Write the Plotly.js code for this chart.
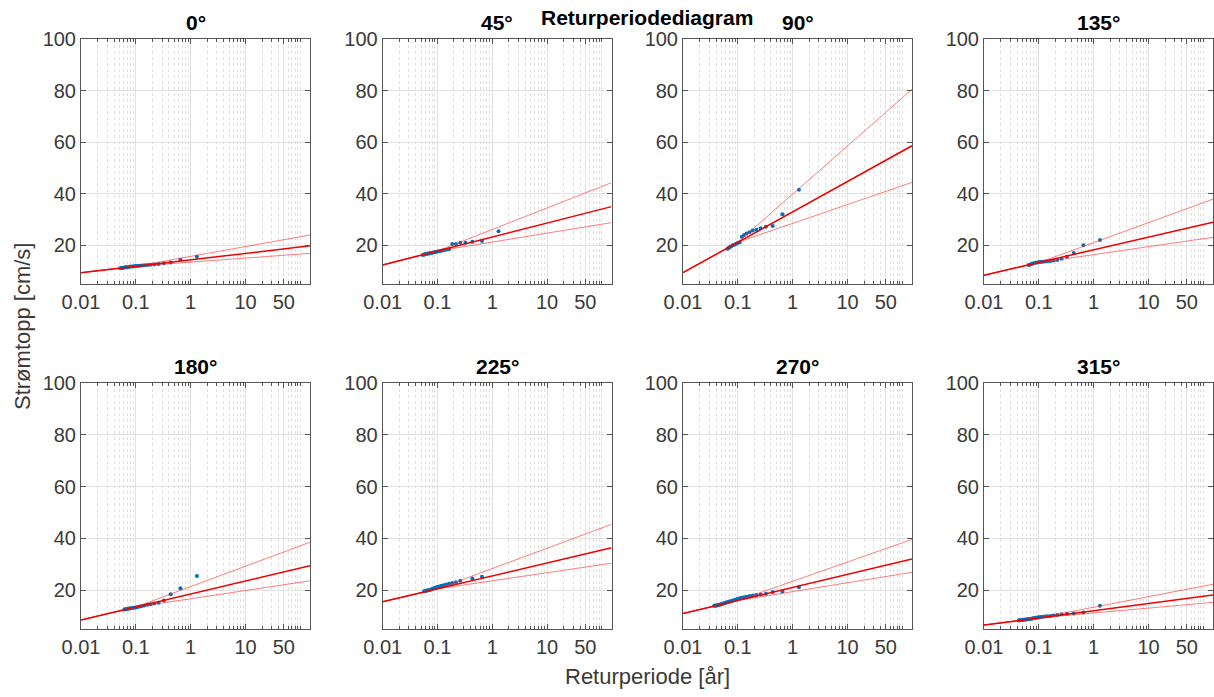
<!DOCTYPE html>
<html><head><meta charset="utf-8">
<script src="https://cdn.plot.ly/plotly-3.0.1.min.js"></script>
<style>body{margin:0;background:#fff}#chart{width:1214px;height:697px}</style>
</head><body><div id="chart"></div><script>
// ---- data ----
const DIRECTIONS = ['0°', '45°', '90°', '135°', '180°', '225°', '270°', '315°'];
const X_TICKS = [0.01, 0.1, 1, 10, 50];
const X_TICK_TEXT = ['0.01', '0.1', '1', '10', '50'];
const Y_TICKS = [20, 40, 60, 80, 100];

// fitted line end points (x = 0.01 and x = 150) and confidence bounds (x = 0.01, 0.1, 150)
const FIT_X = [0.01, 150];
const CI_X = [0.01, 0.1, 150];

const T_0 = [1.3, 0.65, 0.433, 0.325, 0.26, 0.217, 0.186, 0.163, 0.144, 0.13, 0.118, 0.108, 0.1, 0.093, 0.087, 0.081, 0.076, 0.072, 0.068, 0.065, 0.062, 0.059, 0.057, 0.054, 0.052];
const V_0 = [15.6, 14.4, 13.3, 13.0, 12.8, 12.6, 12.5, 12.4, 12.3, 12.2, 12.1, 12.0, 12.0, 11.9, 11.8, 11.8, 11.7, 11.6, 11.5, 11.5, 11.4, 11.3, 11.3, 11.2, 11.1];
const FIT_0 = [9.4, 19.8];
const UPPER_0 = [9.4, 11.9, 24.0];
const LOWER_0 = [9.4, 11.9, 16.9];

const T_45 = [1.3, 0.65, 0.433, 0.325, 0.26, 0.217, 0.186, 0.163, 0.144, 0.13, 0.118, 0.108, 0.1, 0.093, 0.087, 0.081, 0.076, 0.072, 0.068, 0.065, 0.062, 0.059, 0.057, 0.054];
const V_45 = [25.5, 21.7, 21.4, 21.0, 21.0, 20.5, 20.5, 18.5, 18.3, 18.1, 17.9, 17.7, 17.6, 17.4, 17.3, 17.1, 17.0, 16.9, 16.8, 16.7, 16.6, 16.5, 16.4, 16.2];
const FIT_45 = [12.4, 35.0];
const UPPER_45 = [12.4, 17.8, 44.3];
const LOWER_45 = [12.4, 17.8, 28.8];

const T_90 = [1.3, 0.65, 0.433, 0.325, 0.26, 0.217, 0.186, 0.163, 0.144, 0.13, 0.118, 0.108, 0.1, 0.093, 0.087, 0.081, 0.076, 0.072, 0.068, 0.065];
const V_90 = [41.5, 32.0, 27.5, 27.2, 26.6, 26.0, 25.7, 25.1, 24.6, 24.0, 23.3, 21.2, 20.9, 20.6, 20.2, 20.0, 19.6, 19.3, 19.0, 18.7];
const FIT_90 = [9.4, 58.6];
const UPPER_90 = [9.4, 21.2, 80.5];
const LOWER_90 = [9.4, 21.2, 44.4];

const T_135 = [1.3, 0.65, 0.433, 0.325, 0.26, 0.217, 0.186, 0.163, 0.144, 0.13, 0.118, 0.108, 0.1, 0.093, 0.087, 0.081, 0.076, 0.072, 0.068, 0.065];
const V_135 = [22.1, 20.0, 17.0, 15.6, 14.8, 14.3, 14.1, 13.9, 13.8, 13.7, 13.6, 13.5, 13.4, 13.3, 13.2, 13.0, 12.9, 12.7, 12.5, 12.4];
const FIT_135 = [8.4, 29.0];
const UPPER_135 = [8.4, 13.3, 37.9];
const LOWER_135 = [8.4, 13.3, 23.1];

const T_180 = [1.3, 0.65, 0.433, 0.325, 0.26, 0.217, 0.186, 0.163, 0.144, 0.13, 0.118, 0.108, 0.1, 0.093, 0.087, 0.081, 0.076, 0.072, 0.068, 0.065, 0.062];
const V_180 = [25.5, 20.7, 18.4, 16.0, 15.1, 14.8, 14.6, 14.4, 14.1, 13.9, 13.7, 13.5, 13.3, 13.2, 13.1, 13.0, 12.9, 12.8, 12.7, 12.6, 12.5];
const FIT_180 = [8.5, 29.4];
const UPPER_180 = [8.5, 13.5, 38.5];
const LOWER_180 = [8.5, 13.5, 23.6];

const T_225 = [0.65, 0.433, 0.26, 0.217, 0.186, 0.163, 0.144, 0.13, 0.118, 0.108, 0.1, 0.093, 0.087, 0.081, 0.076, 0.072, 0.068, 0.065, 0.062, 0.059, 0.057];
const V_225 = [25.2, 24.5, 23.6, 23.1, 22.8, 22.5, 22.2, 21.9, 21.7, 21.4, 21.2, 21.0, 20.8, 20.5, 20.3, 20.1, 20.0, 19.9, 19.8, 19.7, 19.6];
const FIT_225 = [15.5, 36.4];
const UPPER_225 = [15.5, 20.5, 45.4];
const LOWER_225 = [15.5, 20.5, 30.4];

const T_270 = [1.3, 0.65, 0.433, 0.325, 0.26, 0.217, 0.186, 0.163, 0.144, 0.13, 0.118, 0.108, 0.1, 0.093, 0.087, 0.081, 0.076, 0.072, 0.068, 0.065, 0.062, 0.059, 0.057, 0.054, 0.052, 0.05, 0.048, 0.046, 0.045, 0.043, 0.042, 0.041, 0.039, 0.038, 0.037];
const V_270 = [21.1, 19.5, 19.3, 18.6, 18.3, 18.1, 17.9, 17.7, 17.5, 17.3, 17.1, 16.9, 16.6, 16.4, 16.2, 16.0, 15.8, 15.6, 15.5, 15.3, 15.2, 15.0, 14.9, 14.8, 14.7, 14.6, 14.5, 14.4, 14.3, 14.2, 14.2, 14.1, 14.1, 14.0, 14.0];
const FIT_270 = [11.0, 32.0];
const UPPER_270 = [11.0, 16.0, 39.6];
const LOWER_270 = [11.0, 16.0, 26.9];

const T_315 = [1.3, 0.65, 0.433, 0.325, 0.26, 0.217, 0.186, 0.163, 0.144, 0.13, 0.118, 0.108, 0.1, 0.093, 0.087, 0.081, 0.076, 0.072, 0.068, 0.065, 0.062, 0.059, 0.057, 0.054, 0.052, 0.05, 0.048, 0.046, 0.045, 0.043];
const V_315 = [14.0, 11.4, 11.0, 10.9, 10.7, 10.4, 10.2, 10.0, 9.9, 9.8, 9.7, 9.6, 9.5, 9.4, 9.3, 9.2, 9.1, 9.0, 8.9, 8.8, 8.8, 8.7, 8.7, 8.6, 8.6, 8.5, 8.5, 8.4, 8.4, 8.3];
const FIT_315 = [6.5, 18.1];
const UPPER_315 = [6.5, 9.3, 22.3];
const LOWER_315 = [6.5, 9.3, 15.3];

// ---- assembly ----
const PANELS = [
  [T_0, V_0, FIT_0, UPPER_0, LOWER_0],
  [T_45, V_45, FIT_45, UPPER_45, LOWER_45],
  [T_90, V_90, FIT_90, UPPER_90, LOWER_90],
  [T_135, V_135, FIT_135, UPPER_135, LOWER_135],
  [T_180, V_180, FIT_180, UPPER_180, LOWER_180],
  [T_225, V_225, FIT_225, UPPER_225, LOWER_225],
  [T_270, V_270, FIT_270, UPPER_270, LOWER_270],
  [T_315, V_315, FIT_315, UPPER_315, LOWER_315]
];

const W = 1214, H = 697;
const COLS = [[81, 310], [382.7, 611.5], [683, 912], [984, 1213]];
const ROWS = [[39, 284], [383, 629]];
const FONT = 'Liberation Sans, Arial, Helvetica, sans-serif';
const TXT = '#3a3a3a';
const AX = '#555555';

const traces = [];
const layout = {
  width: W, height: H,
  margin: {l: 0, r: 0, t: 0, b: 0},
  paper_bgcolor: '#fff', plot_bgcolor: '#fff',
  showlegend: false,
  font: {family: FONT, color: TXT},
  annotations: []
};

PANELS.forEach((p, i) => {
  const n = i + 1;
  const xs = n === 1 ? 'x' : 'x' + n;
  const ys = n === 1 ? 'y' : 'y' + n;
  const col = COLS[i % 4], row = ROWS[Math.floor(i / 4)];
  const [T, V, FIT, UP, LO] = p;

  traces.push({x: T, y: V, xaxis: xs, yaxis: ys, type: 'scatter', mode: 'markers',
    marker: {color: '#0072BD', size: 4}, hoverinfo: 'x+y'});
  traces.push({x: CI_X, y: UP, xaxis: xs, yaxis: ys, type: 'scatter', mode: 'lines',
    line: {color: 'rgba(255,40,40,0.6)', width: 1}});
  traces.push({x: CI_X, y: LO, xaxis: xs, yaxis: ys, type: 'scatter', mode: 'lines',
    line: {color: 'rgba(255,40,40,0.6)', width: 1}});
  traces.push({x: FIT_X, y: FIT, xaxis: xs, yaxis: ys, type: 'scatter', mode: 'lines',
    line: {color: '#ee0000', width: 1.5}});

  const xa = {
    type: 'log', range: [-2, Math.log10(150)], anchor: ys,
    domain: [col[0] / W, col[1] / W],
    tickvals: X_TICKS, ticktext: X_TICK_TEXT,
    ticks: 'inside', ticklen: 5, tickcolor: AX, tickwidth: 1,
    showline: true, linecolor: AX, linewidth: 1, mirror: 'ticks',
    showgrid: true, gridcolor: '#e2e2e2', gridwidth: 1, zeroline: false,
    tickfont: {size: 20, color: TXT, family: FONT},
    minor: {dtick: 'D1', ticks: 'inside', ticklen: 3, tickcolor: AX,
      showgrid: true, gridcolor: '#e0e0e0', griddash: 'dot', gridwidth: 1}
  };
  const ya = {
    range: [5, 100], anchor: xs,
    domain: [1 - row[1] / H, 1 - row[0] / H],
    tickvals: Y_TICKS,
    ticks: 'inside', ticklen: 5, tickcolor: AX, tickwidth: 1,
    showline: true, linecolor: AX, linewidth: 1, mirror: 'ticks',
    showgrid: true, gridcolor: '#e2e2e2', gridwidth: 1, zeroline: false,
    tickfont: {size: 20, color: TXT, family: FONT}
  };
  layout['xaxis' + (n === 1 ? '' : n)] = xa;
  layout['yaxis' + (n === 1 ? '' : n)] = ya;

  layout.annotations.push({
    text: '<b>' + DIRECTIONS[i] + '</b>', xref: 'paper', yref: 'paper',
    x: (col[0] + col[1]) / 2 / W, y: 1 - (row[0] - 16) / H,
    xanchor: 'center', yanchor: 'middle', showarrow: false,
    font: {size: 21, color: '#000', family: FONT}
  });
});

layout.annotations.push({
  text: '<b>Returperiodediagram</b>', xref: 'paper', yref: 'paper',
  x: 647 / W, y: 1 - 17 / H, xanchor: 'center', yanchor: 'middle', showarrow: false,
  font: {size: 21, color: '#000', family: FONT}
});
layout.annotations.push({
  text: 'Returperiode [år]', xref: 'paper', yref: 'paper',
  x: 647 / W, y: 1 - 676 / H, xanchor: 'center', yanchor: 'middle', showarrow: false,
  font: {size: 22, color: TXT, family: FONT}
});
layout.annotations.push({
  text: 'Strømtopp [cm/s]', xref: 'paper', yref: 'paper', textangle: -90,
  x: 22 / W, y: 1 - 327 / H, xanchor: 'center', yanchor: 'middle', showarrow: false,
  font: {size: 22, color: TXT, family: FONT}
});

Plotly.newPlot('chart', traces, layout, {staticPlot: true, displayModeBar: false});
</script></body></html>
